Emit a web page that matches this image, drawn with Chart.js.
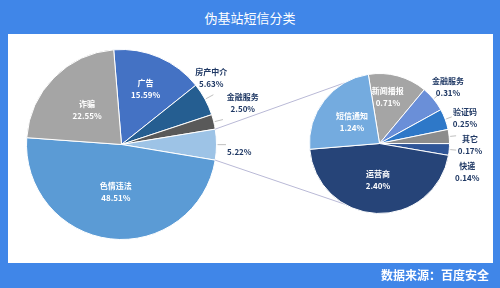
<!DOCTYPE html>
<html>
<head>
<meta charset="utf-8">
<script src="https://cdn.jsdelivr.net/npm/chart.js@4.4.1/dist/chart.umd.min.js"></script>
<style>
  html, body { margin: 0; padding: 0; }
  body { width: 500px; height: 288px; background: #4086e8; position: relative; overflow: hidden;
         font-family: "Noto Sans CJK SC", sans-serif; }
  #title { position: absolute; left: 0; top: 7px; width: 500px; text-align: center; color: #fff;
           font-size: 13px; line-height: 22px; }
  #panel { position: absolute; left: 8px; top: 34px; width: 485px; height: 229px; background: #fff; }
  #panel canvas { position: absolute; left: 0; top: 0; }
  #source { position: absolute; right: 11px; top: 266px; color: #fff; font-weight: bold; font-size: 12px;
            line-height: 18px; }
</style>
</head>
<body>
<div id="title">伪基站短信分类</div>
<div id="panel">
  <canvas id="mainPie" width="485" height="229"></canvas>
  <canvas id="subPie" width="485" height="229"></canvas>
</div>
<div id="source">数据来源：百度安全</div>
<script>
/* data */
const mainLabels = ['广告', '房产中介', '金融服务', '', '色情违法', '诈骗'];
const mainValues = [15.59, 5.63, 2.50, 5.22, 48.51, 22.55];
const subLabels = ['新闻播报', '金融服务', '验证码', '其它', '快递', '运营商', '短信通知'];
const subValues = [0.71, 0.31, 0.25, 0.17, 0.14, 2.40, 1.24];

/* styles */
const mainColors = ['#4472c4', '#255e91', '#595959', '#9dc3e6', '#5b9bd5', '#a5a5a5'];
const subColors = ['#a5a5a5', '#6a8fd8', '#2e78c8', '#8c8c8c', '#2f5597', '#264478', '#74abdf'];
// [radius factor, dx, dy] for each label
const mainPlace = [[0.64, 0, 0], [1.05, 2, -19], [1.25, 6, -13], [1.24, 0, 7], [0.5, 0, 0], [0.51, 0, 0]];
const subPlace = [[0.67, -4, -1], [1.27, 0, 0], [1.27, 2, 5], [1.3, 0, 11], [1.3, -3, 21], [0.52, 0, 0], [0.5, 0, 0]];

const FONT = '"Noto Sans CJK SC", sans-serif';

/* labels + leader lines */
const pieLabels = {
  id: 'pieLabels',
  afterDatasetsDraw(chart, args, opts) {
    const ctx = chart.ctx;
    const arcs = chart.getDatasetMeta(0).data;
    ctx.save();
    ctx.textAlign = 'center';
    ctx.textBaseline = 'middle';
    arcs.forEach((arc, i) => {
      const p = opts.place[i];
      const mid = (arc.startAngle + arc.endAngle) / 2;
      const r = arc.outerRadius;
      const x = arc.x + Math.cos(mid) * r * p[0] + p[1];
      const y = arc.y + Math.sin(mid) * r * p[0] + p[2];
      const inside = p[0] < 1;
      if (!inside) {
        ctx.strokeStyle = '#bfbfbf';
        ctx.lineWidth = 1;
        ctx.beginPath();
        ctx.moveTo(arc.x + Math.cos(mid) * (r + 1), arc.y + Math.sin(mid) * (r + 1));
        ctx.lineTo(arc.x + Math.cos(mid) * r * 1.1, arc.y + Math.sin(mid) * r * 1.1);
        ctx.stroke();
      }
      ctx.fillStyle = inside ? '#ffffff' : '#1f3864';
      ctx.font = 'bold 8px ' + FONT;
      const val = opts.values[i].toFixed(2) + '%';
      const name = opts.names[i];
      if (name) {
        ctx.fillText(name, x, y - 6);
        ctx.fillText(val, x, y + 6);
      } else {
        ctx.fillText(val, x, y);
      }
    });
    ctx.restore();
  }
};

/* lines from the 5.22% slice to the breakdown pie */
const linkLines = {
  id: 'linkLines',
  beforeDatasetsDraw(chart) {
    const main = Chart.getChart('mainPie');
    if (!main) return;
    const src = main.getDatasetMeta(0).data[3];
    const dst = chart.getDatasetMeta(0).data[0];
    const cx = chart.chartArea.left + chart.chartArea.width / 2;
    const cy = chart.chartArea.top + chart.chartArea.height / 2;
    const R = dst.outerRadius;
    const a = Math.PI * 2 / 3;
    const ctx = chart.ctx;
    ctx.save();
    ctx.strokeStyle = '#b9b9d6';
    ctx.lineWidth = 1;
    ctx.beginPath();
    ctx.moveTo(src.x + Math.cos(src.startAngle) * src.outerRadius, src.y + Math.sin(src.startAngle) * src.outerRadius);
    ctx.lineTo(cx + Math.cos(-a) * R, cy + Math.sin(-a) * R);
    ctx.moveTo(src.x + Math.cos(src.endAngle) * src.outerRadius, src.y + Math.sin(src.endAngle) * src.outerRadius);
    ctx.lineTo(cx + Math.cos(a) * R, cy + Math.sin(a) * R);
    ctx.stroke();
    ctx.restore();
  }
};

function pieOptions(rotation, padding, names, values, place) {
  return {
    responsive: false,
    animation: false,
    devicePixelRatio: 1,
    rotation: rotation,
    layout: { padding: padding },
    events: [],
    plugins: {
      legend: { display: false },
      tooltip: { enabled: false },
      pieLabels: { names: names, values: values, place: place }
    }
  };
}

new Chart(document.getElementById('mainPie'), {
  type: 'pie',
  data: {
    labels: mainLabels,
    datasets: [{
      data: mainValues,
      backgroundColor: mainColors,
      borderColor: '#ffffff',
      borderWidth: 1,
      hoverOffset: 0
    }]
  },
  options: pieOptions(-4.7, { left: 18, right: 276, top: 15, bottom: 23 }, mainLabels, mainValues, mainPlace),
  plugins: [pieLabels]
});

new Chart(document.getElementById('subPie'), {
  type: 'pie',
  data: {
    labels: subLabels,
    datasets: [{
      data: subValues,
      backgroundColor: subColors,
      borderColor: '#ffffff',
      borderWidth: 1,
      hoverOffset: 0
    }]
  },
  options: pieOptions(-9.2, { left: 301, right: 43, top: 39, bottom: 49 }, subLabels, subValues, subPlace),
  plugins: [linkLines, pieLabels]
});
</script>
</body>
</html>
